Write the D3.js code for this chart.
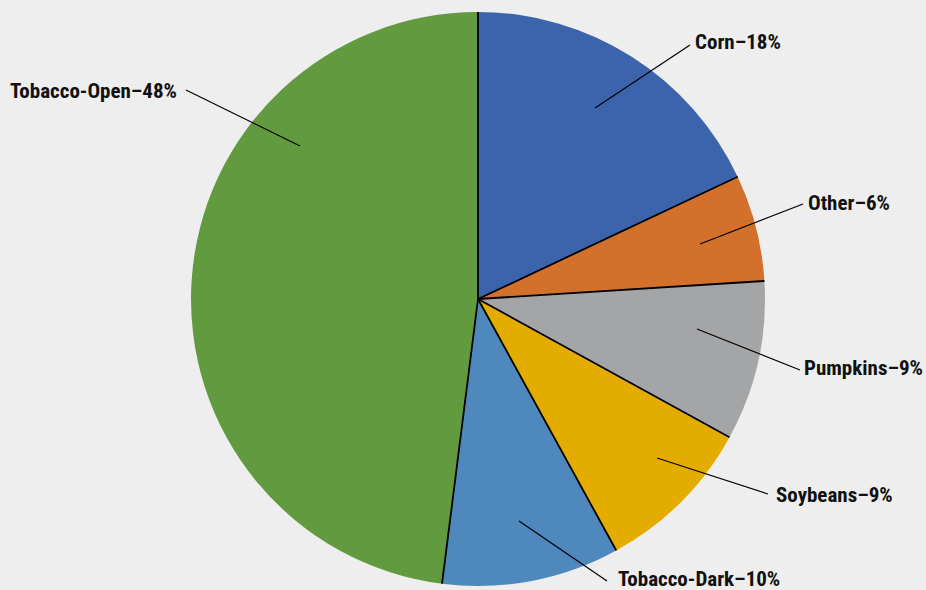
<!DOCTYPE html>
<html><head><meta charset="utf-8">
<script src="https://cdn.jsdelivr.net/npm/d3@7"></script>
<style>
html,body{margin:0;padding:0;background:#eeeeee;}
svg{display:block;}
text{font-family:"Liberation Sans Narrow","Roboto Condensed","Arial Narrow",Roboto,sans-serif;font-weight:bold;font-size:21px;fill:#111;}
</style></head>
<body>
<svg id="chart" width="926" height="590"></svg>
<script>
const categories = ["Corn", "Other", "Pumpkins", "Soybeans", "Tobacco-Dark", "Tobacco-Open"];
const values = [18, 6, 9, 9, 10, 48];
const colors = ["#3c64ac", "#d2702c", "#a4a5a7", "#e5ac00", "#4e88bc", "#629a3f"];
// leader line layout: [x1,y1,x2,y2], label anchor [x,y,anchor]
const leaders = [[595,108,690,45],[700,244,803,204],[697,329,800,370],[657,458,768,494],[519,521,607,581],[300,146,186,90]];
const labelPos = [[695,49,"start"],[808,210,"start"],[804,375,"start"],[776,502,"start"],[618,586,"start"],[177,98,"end"]];

const svg = d3.select("#chart");
const cx = 478, cy = 299, r = 287;
const data = categories.map((c,i)=>({cat:c, value:values[i], color:colors[i], i}));
const pie = d3.pie().value(d=>d.value).sort(null);
const arcs = pie(data);
const arc = d3.arc().innerRadius(0).outerRadius(r);
const g = svg.append("g").attr("transform", `translate(${cx},${cy})`);
g.selectAll("path.slice").data(arcs).join("path")
  .attr("class","slice")
  .attr("d", arc)
  .attr("fill", d=>d.data.color);
// radial separators
g.selectAll("line.sep").data(arcs).join("line")
  .attr("x1",0).attr("y1",0)
  .attr("x2", d=>r*Math.sin(d.startAngle))
  .attr("y2", d=>-r*Math.cos(d.startAngle))
  .attr("stroke","#000").attr("stroke-width",1.8);
svg.selectAll("line.leader").data(data).join("line")
  .attr("class","leader")
  .attr("x1",d=>leaders[d.i][0]).attr("y1",d=>leaders[d.i][1])
  .attr("x2",d=>leaders[d.i][2]).attr("y2",d=>leaders[d.i][3])
  .attr("stroke","#000").attr("stroke-width",1.2);
svg.selectAll("text.lab").data(data).join("text")
  .attr("class","lab")
  .attr("x",d=>labelPos[d.i][0]).attr("y",d=>labelPos[d.i][1])
  .attr("text-anchor",d=>labelPos[d.i][2])
  .text(d=>`${d.cat}\u2013${d.value}%`);
</script>
</body></html>
